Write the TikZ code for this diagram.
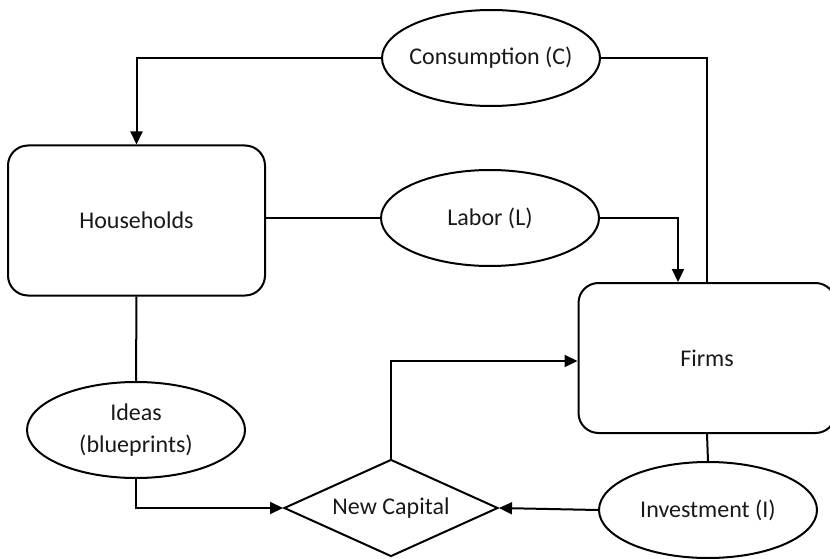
\documentclass[tikz,border=0pt]{standalone}
\usepackage{fontspec}
\setmainfont{Carlito}
\usetikzlibrary{shapes.geometric,arrows.meta}
\begin{document}
\begin{tikzpicture}[x=1pt,y=-1pt,
  every node/.style={font=\fontsize{24}{29}\selectfont, text=black!90, inner sep=0pt},
  boxnode/.style={draw, line width=2pt, rounded corners=20pt, minimum width=257pt, minimum height=150pt},
  ellnode/.style={draw, line width=2pt, ellipse, inner xsep=-12pt, inner ysep=-6pt, minimum width=218pt, minimum height=96pt, align=center},
  dianode/.style={draw, line width=2pt, diamond, aspect=2.2, minimum width=214pt, minimum height=97pt},
  conn/.style={line width=2pt},
  arr/.style={line width=2pt, -{Triangle[length=13pt,width=12pt]}}]
\useasboundingbox (0,0) rectangle (830,559);
\node[boxnode] (hh) at (136.5,220.5) {Households};
\node[boxnode] (firms) at (707,358) {Firms};
\node[ellnode] (cons) at (491,58) {Consumption (C)};
\node[ellnode] (labor) at (490,218) {Labor (L)};
\node[ellnode] (ideas) at (136,430) {Ideas\\[3pt](blueprints)};
\node[dianode] (newk) at (391,508) {New Capital};
\node[ellnode] (inv) at (708,510) {Investment (I)};
\draw[arr] (cons.west) -| (hh.north);
\draw[conn] (cons.east) -| (firms.north);
\draw[conn] (labor.west) -- (labor.west -| hh.east);
\draw[arr] (labor.east) -| ([xshift=-29pt]firms.north);
\draw[conn] (hh.south) -- (ideas.north);
\draw[arr] (ideas.south) |- (newk.west);
\draw[arr] (newk.north) |- ([yshift=-3pt]firms.west);
\draw[conn] (firms.south) -- (inv.north);
\draw[arr] (inv.west) -- (newk.east);
\end{tikzpicture}
\end{document}
